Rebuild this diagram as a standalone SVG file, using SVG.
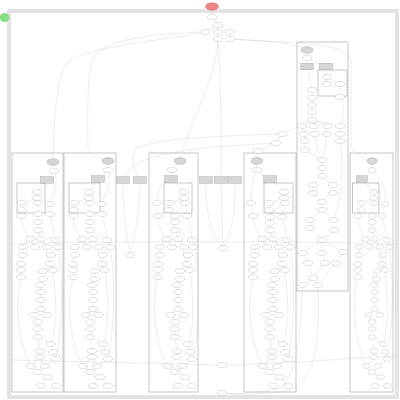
<svg xmlns="http://www.w3.org/2000/svg" xmlns:xlink="http://www.w3.org/1999/xlink" width="400" height="400" viewBox="0 0 400 400">
<style>
.n{fill:#fff;stroke:#a5a5a5;stroke-width:.35}
.g{fill:#d6d6d6;stroke:#999;stroke-width:.35}
.cl{fill:none;stroke:#a0a0a0;stroke-width:.6}
.e{fill:none;stroke:#c0c0c0;stroke-width:.3}
</style>
<defs>
<ellipse id="n" cx="0" cy="0" rx="4.7" ry="2.4"/>
<ellipse id="ge" cx="0" cy="0" rx="6" ry="3.4"/>
<rect id="gb" x="-6.5" y="-3.3" width="13" height="6.6"/>
<path id="te" d="M9,216 C10,228 14,234 18,239 M26,214 L26,230 M38,214 C40,225 43,232 43,240 M26,230 L18,239 M26,230 L29,239 M26,230 L43,240 M18,239 L11,247 M18,239 L23,247 M29,239 L35,247 M43,240 L46,247 M11,247 L11,255 M46,247 L39,255 M11,255 L9,264 L9,270 L9,277 M39,255 L38,264 L41,270 M38,264 L31,271 L31,279 L28,285 L29,292 L29,300 L29,309 M29,309 L22,315 M29,309 L35,315 M22,315 L26,322 M35,315 L26,322 M26,322 L26,337 M26,337 L39,344 M26,337 L28,351 M39,344 L41,352 L44,359 M28,351 L28,357 L19,366 M28,357 L33,366 M19,366 L26,372 M33,366 L26,372 M26,372 L36,377 M36,377 L29,386 M36,377 L44,386 M9,277 C3,300 4,340 19,366 M46,247 C52,280 50,330 44,359 M44,359 L33,366 M35,247 C34,256 36,260 38,264 M41,270 C45,300 45,330 39,344"/>
</defs>
<rect width="400" height="400" fill="#fff"/>
<g id="clusters">
<rect class="cl" x="8" y="10" width="390" height="388"/>
<rect class="cl" x="10" y="12" width="386" height="384"/>
<rect class="cl" x="297" y="42" width="51" height="249"/>
<rect class="cl" x="318" y="70" width="29" height="26"/>
<rect class="cl" x="12" y="153" width="51" height="239"/>
<rect class="cl" x="17" y="183" width="28" height="30"/>
<rect class="cl" x="64" y="153" width="52" height="239"/>
<rect class="cl" x="69" y="183" width="31" height="30"/>
<rect class="cl" x="149" y="153" width="49" height="239"/>
<rect class="cl" x="164" y="183" width="28" height="30"/>
<rect class="cl" x="244" y="153" width="52" height="239"/>
<rect class="cl" x="264" y="183" width="29" height="30"/>
<rect class="cl" x="350" y="153" width="43" height="239"/>
<rect class="cl" x="352.5" y="183" width="26.5" height="30"/>
</g>
<g id="connectors" class="e">
<path d="M212,6.5 L212,17 L218,25 L205,32 M218,25 L218,32 L218,39 M218,25 L230,32 L230,39"/>
<path d="M205,32 C180,33 110,35 95,55 C88,65 87,100 88,148 C89,155 98,158 108,161"/>
<path d="M205,32 C170,40 100,44 70,60 C56,70 54,120 53,162"/>
<path d="M230,39 C265,41 292,42 307,50"/>
<path d="M230,39 C300,44 346,42 351,60 L351,145 C352,152 362,157 372,161"/>
<path d="M218,39 C216,80 190,120 180,161"/>
<path d="M218,39 C222,100 221,150 221,180"/>
<path d="M302,126 C295,128 288,130 282,134 L276,143 L258,151 L257,161"/>
<path d="M282,134 C220,136 150,138 135,150 C131,156 132,170 140,180"/>
<path d="M276,143 C210,147 130,150 123,180"/>
<path d="M123,184 C123,220 128,240 130,255 M140,184 C140,220 133,240 130,255"/>
<path d="M206,184 C205,220 215,240 223,248 M221,184 L223,248 M235,184 C236,220 228,240 223,248"/>
<path d="M12,244 C100,241 300,241 396,244"/>
<path d="M12,360 C100,362 180,364 222,365 M222,365 C300,363 350,358 396,356"/>
<path d="M303,285 C300,320 301,370 280,388 C260,394 235,394 222,393 M318,285 C320,330 318,380 290,390 C265,395 240,395 222,393"/>
<path d="M307,50 L307,58 L307,66.5 M307,58 L326,66.5 M326,66.5 L327,77 L327,84 M327,77 L340,84 L340,97 M307,66.5 L312,90 L312,120 M312,120 L302,126 L304,134 L305,141 L305,150 M312,120 L314,126 L315,134 M312,120 L327,126 L327,134 M312,120 L340,126 L340,134 L340,141 M340,97 C345,105 344,115 340,126 M305,150 L322,160 L322,176 L313,185 L313,193 L322,202 M322,176 L333,185 L333,193 L322,202 L322,210 L310,220 L310,228 L322,240 M322,210 L334,220 L334,230 L322,240 M340,141 C345,170 340,200 334,220 M322,240 L303,253 M322,240 L322,253 M322,240 L343,252 M303,253 L308,263 L313,278 M322,253 L325,263 L313,278 M343,252 L336,263 L318,285 M313,278 L303,285 M313,278 L318,285 M315,134 C316,145 318,150 322,160 M327,134 C326,150 322,155 322,160"/>
<g transform="translate(12,0)"><use href="#te"/><path d="M41,162 L42,171 L35,180 L25,192 L25,198 L10,203 L10,210 L9,216 M25,198 L26,203 L26,214 M42,171 C48,185 40,195 38,204 L38,214"/></g>
<g transform="translate(64,0)"><use href="#te"/><path d="M44,161 L44,170 L34,179 L25,192 L25,198 L10,203 L10,210 L9,216 M25,198 L26,203 L26,214 M44,170 C48,185 40,195 38,204 L38,214"/></g>
<g transform="translate(149,0)"><use href="#te"/><path d="M31,161 L23,170 L22,179 L35,192 L35,198 L20,203 L20,210 L9,216 M35,198 L36,203 L26,214 M36,203 L38,214 M23,170 C12,180 8,195 8,203 L9,216"/></g>
<g transform="translate(244,0)"><use href="#te"/><path d="M13,161 L13,170 L26,179 L40,192 L40,198 L25,203 L25,210 L9,216 M40,198 L41,203 L26,214 M41,203 L38,214 M13,170 C8,180 7,195 7,203 L9,216"/></g>
<g transform="translate(350,0) scale(.85,1)"><use href="#te"/><path d="M26,161 L26,170 L14,179 L28,192 L28,198 L13,203 L13,210 L9,216 M28,198 L29,203 L26,214 M26,170 C44,185 42,195 41,204 L38,214"/></g>
</g>
<g id="top" class="n">
<g id="start"><ellipse cx="212" cy="6.5" rx="6.5" ry="3.8" fill="#ec8585" stroke="#c55"/></g>
<g id="legend"><ellipse cx="4.5" cy="17.5" rx="4.5" ry="4.2" fill="#86e086" stroke="#5b5"/></g>
<g id="a1"><use href="#n" x="212" y="17"/></g>
<g id="a2"><use href="#n" x="218" y="25"/></g>
<g id="a3"><use href="#n" x="205" y="32"/></g>
<g id="a4"><use href="#n" x="218" y="32"/></g>
<g id="a5"><use href="#n" x="230" y="32"/></g>
<g id="a6"><use href="#n" x="218" y="39"/></g>
<g id="a7"><use href="#n" x="230" y="39"/></g>
<g id="g1" class="g"><use href="#gb" x="123" y="180"/></g>
<g id="g2" class="g"><use href="#gb" x="140" y="180"/></g>
<g id="g3" class="g"><use href="#gb" x="206" y="180"/></g>
<g id="g4" class="g"><use href="#gb" x="221" y="180"/></g>
<g id="g5" class="g"><use href="#gb" x="235" y="180"/></g>
<g id="b1"><use href="#n" x="130" y="255"/></g>
<g id="b2"><use href="#n" x="223" y="248"/></g>
<g id="b3"><use href="#n" x="282" y="134"/></g>
<g id="b4"><use href="#n" x="276" y="143"/></g>
<g id="b5"><use href="#n" x="258" y="151"/></g>
<g id="b6"><use href="#n" x="222" y="365"/></g>
<g id="b7"><use href="#n" x="222" y="393"/></g>
</g>
<g id="upper" class="n">
<g id="u0" class="g"><use href="#ge" x="307" y="50"/></g>
<g id="u1"><use href="#n" x="307" y="58"/></g>
<g id="ub1" class="g"><use href="#gb" x="307" y="66.5"/></g>
<g id="ub2" class="g"><use href="#gb" x="326" y="66.5"/></g>
<g id="u2"><use href="#n" x="327" y="77"/></g>
<g id="u3"><use href="#n" x="327" y="84"/></g>
<g id="u4"><use href="#n" x="340" y="84"/></g>
<g id="u5"><use href="#n" x="340" y="97"/></g>
<g id="u6"><use href="#n" x="312" y="90"/></g>
<g id="u7"><use href="#n" x="312" y="98"/></g>
<g id="u8"><use href="#n" x="312" y="105"/></g>
<g id="u9"><use href="#n" x="312" y="112"/></g>
<g id="u10"><use href="#n" x="312" y="120"/></g>
<g id="u11"><use href="#n" x="302" y="126"/></g>
<g id="u12"><use href="#n" x="314" y="126"/></g>
<g id="u13"><use href="#n" x="327" y="126"/></g>
<g id="u14"><use href="#n" x="340" y="126"/></g>
<g id="u15"><use href="#n" x="304" y="134"/></g>
<g id="u16"><use href="#n" x="315" y="134"/></g>
<g id="u17"><use href="#n" x="327" y="134"/></g>
<g id="u18"><use href="#n" x="340" y="134"/></g>
<g id="u19"><use href="#n" x="305" y="141"/></g>
<g id="u20"><use href="#n" x="340" y="141"/></g>
<g id="u21"><use href="#n" x="305" y="150"/></g>
<g id="u22"><use href="#n" x="322" y="160"/></g>
<g id="u23"><use href="#n" x="322" y="168"/></g>
<g id="u24"><use href="#n" x="322" y="176"/></g>
<g id="u25"><use href="#n" x="313" y="185"/></g>
<g id="u26"><use href="#n" x="333" y="185"/></g>
<g id="u27"><use href="#n" x="313" y="193"/></g>
<g id="u28"><use href="#n" x="333" y="193"/></g>
<g id="u29"><use href="#n" x="322" y="202"/></g>
<g id="u30"><use href="#n" x="322" y="210"/></g>
<g id="u31"><use href="#n" x="310" y="220"/></g>
<g id="u32"><use href="#n" x="334" y="220"/></g>
<g id="u33"><use href="#n" x="310" y="228"/></g>
<g id="u34"><use href="#n" x="334" y="230"/></g>
<g id="u35"><use href="#n" x="322" y="240"/></g>
<g id="u36"><use href="#n" x="303" y="253"/></g>
<g id="u37"><use href="#n" x="322" y="253"/></g>
<g id="u38"><use href="#n" x="343" y="252"/></g>
<g id="u39"><use href="#n" x="308" y="263"/></g>
<g id="u40"><use href="#n" x="325" y="263"/></g>
<g id="u41"><use href="#n" x="336" y="263"/></g>
<g id="u42"><use href="#n" x="313" y="278"/></g>
<g id="u43"><use href="#n" x="303" y="285"/></g>
<g id="u44"><use href="#n" x="318" y="285"/></g>
</g>
<g id="col1" class="n" transform="translate(12,0)">
<g id="c1_e" class="g"><use href="#ge" x="41" y="162"/></g>
<g id="c1_s"><use href="#n" x="42" y="171"/></g>
<g id="c1_b" class="g"><use href="#gb" x="35" y="180"/></g>
<g id="c1_1"><use href="#n" x="25" y="192"/></g>
<g id="c1_2"><use href="#n" x="25" y="198"/></g>
<g id="c1_3"><use href="#n" x="10" y="203"/></g>
<g id="c1_4"><use href="#n" x="26" y="203"/></g>
<g id="c1_5"><use href="#n" x="10" y="210"/></g>
<g id="c1_6"><use href="#n" x="38" y="204"/></g>
<g id="c1_7"><use href="#n" x="9" y="216"/></g>
<g id="c1_8"><use href="#n" x="26" y="214"/></g>
<g id="c1_9"><use href="#n" x="38" y="214"/></g>
<g id="c1_10"><use href="#n" x="26" y="222"/></g>
<g id="c1_11"><use href="#n" x="26" y="230"/></g>
<g id="c1_12"><use href="#n" x="18" y="239"/></g>
<g id="c1_13"><use href="#n" x="29" y="239"/></g>
<g id="c1_14"><use href="#n" x="43" y="240"/></g>
<g id="c1_15"><use href="#n" x="11" y="247"/></g>
<g id="c1_16"><use href="#n" x="23" y="247"/></g>
<g id="c1_17"><use href="#n" x="35" y="247"/></g>
<g id="c1_18"><use href="#n" x="46" y="247"/></g>
<g id="c1_19"><use href="#n" x="11" y="255"/></g>
<g id="c1_20"><use href="#n" x="39" y="255"/></g>
<g id="c1_21"><use href="#n" x="9" y="264"/></g>
<g id="c1_22"><use href="#n" x="38" y="264"/></g>
<g id="c1_23"><use href="#n" x="9" y="270"/></g>
<g id="c1_24"><use href="#n" x="31" y="271"/></g>
<g id="c1_25"><use href="#n" x="41" y="270"/></g>
<g id="c1_26"><use href="#n" x="9" y="277"/></g>
<g id="c1_27"><use href="#n" x="31" y="279"/></g>
<g id="c1_28"><use href="#n" x="28" y="285"/></g>
<g id="c1_29"><use href="#n" x="29" y="292"/></g>
<g id="c1_30"><use href="#n" x="29" y="300"/></g>
<g id="c1_31"><use href="#n" x="29" y="309"/></g>
<g id="c1_32"><use href="#n" x="22" y="315"/></g>
<g id="c1_33"><use href="#n" x="35" y="315"/></g>
<g id="c1_34"><use href="#n" x="26" y="322"/></g>
<g id="c1_35"><use href="#n" x="26" y="329"/></g>
<g id="c1_36"><use href="#n" x="26" y="337"/></g>
<g id="c1_37"><use href="#n" x="39" y="344"/></g>
<g id="c1_38"><use href="#n" x="28" y="351"/></g>
<g id="c1_39"><use href="#n" x="41" y="352"/></g>
<g id="c1_40"><use href="#n" x="28" y="357"/></g>
<g id="c1_41"><use href="#n" x="44" y="359"/></g>
<g id="c1_42"><use href="#n" x="19" y="366"/></g>
<g id="c1_43"><use href="#n" x="33" y="366"/></g>
<g id="c1_44"><use href="#n" x="26" y="372"/></g>
<g id="c1_45"><use href="#n" x="36" y="377"/></g>
<g id="c1_46"><use href="#n" x="29" y="386"/></g>
<g id="c1_47"><use href="#n" x="44" y="386"/></g>
</g>
<g id="col2" class="n" transform="translate(64,0)">
<g id="c2_e" class="g"><use href="#ge" x="44" y="161"/></g>
<g id="c2_s"><use href="#n" x="44" y="170"/></g>
<g id="c2_b" class="g"><use href="#gb" x="34" y="179"/></g>
<g id="c2_1"><use href="#n" x="25" y="192"/></g>
<g id="c2_2"><use href="#n" x="25" y="198"/></g>
<g id="c2_3"><use href="#n" x="10" y="203"/></g>
<g id="c2_4"><use href="#n" x="26" y="203"/></g>
<g id="c2_5"><use href="#n" x="10" y="210"/></g>
<g id="c2_6"><use href="#n" x="38" y="204"/></g>
<g id="c2_7"><use href="#n" x="9" y="216"/></g>
<g id="c2_8"><use href="#n" x="26" y="214"/></g>
<g id="c2_9"><use href="#n" x="38" y="214"/></g>
<g id="c2_10"><use href="#n" x="26" y="222"/></g>
<g id="c2_11"><use href="#n" x="26" y="230"/></g>
<g id="c2_12"><use href="#n" x="18" y="239"/></g>
<g id="c2_13"><use href="#n" x="29" y="239"/></g>
<g id="c2_14"><use href="#n" x="43" y="240"/></g>
<g id="c2_15"><use href="#n" x="11" y="247"/></g>
<g id="c2_16"><use href="#n" x="23" y="247"/></g>
<g id="c2_17"><use href="#n" x="35" y="247"/></g>
<g id="c2_18"><use href="#n" x="46" y="247"/></g>
<g id="c2_19"><use href="#n" x="11" y="255"/></g>
<g id="c2_20"><use href="#n" x="39" y="255"/></g>
<g id="c2_21"><use href="#n" x="9" y="264"/></g>
<g id="c2_22"><use href="#n" x="38" y="264"/></g>
<g id="c2_23"><use href="#n" x="9" y="270"/></g>
<g id="c2_24"><use href="#n" x="31" y="271"/></g>
<g id="c2_25"><use href="#n" x="41" y="270"/></g>
<g id="c2_26"><use href="#n" x="9" y="277"/></g>
<g id="c2_27"><use href="#n" x="31" y="279"/></g>
<g id="c2_28"><use href="#n" x="28" y="285"/></g>
<g id="c2_29"><use href="#n" x="29" y="292"/></g>
<g id="c2_30"><use href="#n" x="29" y="300"/></g>
<g id="c2_31"><use href="#n" x="29" y="309"/></g>
<g id="c2_32"><use href="#n" x="22" y="315"/></g>
<g id="c2_33"><use href="#n" x="35" y="315"/></g>
<g id="c2_34"><use href="#n" x="26" y="322"/></g>
<g id="c2_35"><use href="#n" x="26" y="329"/></g>
<g id="c2_36"><use href="#n" x="26" y="337"/></g>
<g id="c2_37"><use href="#n" x="39" y="344"/></g>
<g id="c2_38"><use href="#n" x="28" y="351"/></g>
<g id="c2_39"><use href="#n" x="41" y="352"/></g>
<g id="c2_40"><use href="#n" x="28" y="357"/></g>
<g id="c2_41"><use href="#n" x="44" y="359"/></g>
<g id="c2_42"><use href="#n" x="19" y="366"/></g>
<g id="c2_43"><use href="#n" x="33" y="366"/></g>
<g id="c2_44"><use href="#n" x="26" y="372"/></g>
<g id="c2_45"><use href="#n" x="36" y="377"/></g>
<g id="c2_46"><use href="#n" x="29" y="386"/></g>
<g id="c2_47"><use href="#n" x="44" y="386"/></g>
</g>
<g id="col3" class="n" transform="translate(149,0)">
<g id="c3_e" class="g"><use href="#ge" x="31" y="161"/></g>
<g id="c3_s"><use href="#n" x="23" y="170"/></g>
<g id="c3_b" class="g"><use href="#gb" x="22" y="179"/></g>
<g id="c3_1"><use href="#n" x="35" y="192"/></g>
<g id="c3_2"><use href="#n" x="35" y="198"/></g>
<g id="c3_3"><use href="#n" x="20" y="203"/></g>
<g id="c3_4"><use href="#n" x="36" y="203"/></g>
<g id="c3_5"><use href="#n" x="20" y="210"/></g>
<g id="c3_6"><use href="#n" x="8" y="203"/></g>
<g id="c3_7"><use href="#n" x="9" y="216"/></g>
<g id="c3_8"><use href="#n" x="26" y="216"/></g>
<g id="c3_9"><use href="#n" x="38" y="216"/></g>
<g id="c3_10"><use href="#n" x="26" y="222"/></g>
<g id="c3_11"><use href="#n" x="26" y="230"/></g>
<g id="c3_12"><use href="#n" x="18" y="239"/></g>
<g id="c3_13"><use href="#n" x="29" y="239"/></g>
<g id="c3_14"><use href="#n" x="43" y="240"/></g>
<g id="c3_15"><use href="#n" x="11" y="247"/></g>
<g id="c3_16"><use href="#n" x="23" y="247"/></g>
<g id="c3_17"><use href="#n" x="35" y="247"/></g>
<g id="c3_18"><use href="#n" x="44" y="247"/></g>
<g id="c3_19"><use href="#n" x="11" y="255"/></g>
<g id="c3_20"><use href="#n" x="39" y="255"/></g>
<g id="c3_21"><use href="#n" x="9" y="264"/></g>
<g id="c3_22"><use href="#n" x="38" y="264"/></g>
<g id="c3_23"><use href="#n" x="9" y="270"/></g>
<g id="c3_24"><use href="#n" x="31" y="271"/></g>
<g id="c3_25"><use href="#n" x="41" y="270"/></g>
<g id="c3_26"><use href="#n" x="9" y="277"/></g>
<g id="c3_27"><use href="#n" x="31" y="279"/></g>
<g id="c3_28"><use href="#n" x="28" y="285"/></g>
<g id="c3_29"><use href="#n" x="29" y="292"/></g>
<g id="c3_30"><use href="#n" x="29" y="300"/></g>
<g id="c3_31"><use href="#n" x="29" y="309"/></g>
<g id="c3_32"><use href="#n" x="22" y="315"/></g>
<g id="c3_33"><use href="#n" x="35" y="315"/></g>
<g id="c3_34"><use href="#n" x="26" y="322"/></g>
<g id="c3_35"><use href="#n" x="26" y="329"/></g>
<g id="c3_36"><use href="#n" x="26" y="337"/></g>
<g id="c3_37"><use href="#n" x="39" y="344"/></g>
<g id="c3_38"><use href="#n" x="28" y="351"/></g>
<g id="c3_39"><use href="#n" x="41" y="352"/></g>
<g id="c3_40"><use href="#n" x="28" y="357"/></g>
<g id="c3_41"><use href="#n" x="43" y="359"/></g>
<g id="c3_42"><use href="#n" x="19" y="366"/></g>
<g id="c3_43"><use href="#n" x="33" y="366"/></g>
<g id="c3_44"><use href="#n" x="26" y="372"/></g>
<g id="c3_45"><use href="#n" x="36" y="377"/></g>
<g id="c3_46"><use href="#n" x="29" y="386"/></g>
<g id="c3_47"><use href="#n" x="42" y="386"/></g>
</g>
<g id="col4" class="n" transform="translate(244,0)">
<g id="c4_e" class="g"><use href="#ge" x="13" y="161"/></g>
<g id="c4_s"><use href="#n" x="13" y="170"/></g>
<g id="c4_b" class="g"><use href="#gb" x="26" y="179"/></g>
<g id="c4_1"><use href="#n" x="40" y="192"/></g>
<g id="c4_2"><use href="#n" x="40" y="198"/></g>
<g id="c4_3"><use href="#n" x="25" y="203"/></g>
<g id="c4_4"><use href="#n" x="41" y="203"/></g>
<g id="c4_5"><use href="#n" x="25" y="210"/></g>
<g id="c4_6"><use href="#n" x="7" y="203"/></g>
<g id="c4_7"><use href="#n" x="9" y="216"/></g>
<g id="c4_8"><use href="#n" x="26" y="217"/></g>
<g id="c4_9"><use href="#n" x="38" y="217"/></g>
<g id="c4_10"><use href="#n" x="26" y="223"/></g>
<g id="c4_11"><use href="#n" x="26" y="230"/></g>
<g id="c4_12"><use href="#n" x="18" y="239"/></g>
<g id="c4_13"><use href="#n" x="29" y="239"/></g>
<g id="c4_14"><use href="#n" x="43" y="240"/></g>
<g id="c4_15"><use href="#n" x="11" y="247"/></g>
<g id="c4_16"><use href="#n" x="23" y="247"/></g>
<g id="c4_17"><use href="#n" x="35" y="247"/></g>
<g id="c4_18"><use href="#n" x="46" y="247"/></g>
<g id="c4_19"><use href="#n" x="11" y="255"/></g>
<g id="c4_20"><use href="#n" x="39" y="255"/></g>
<g id="c4_21"><use href="#n" x="9" y="264"/></g>
<g id="c4_22"><use href="#n" x="38" y="264"/></g>
<g id="c4_23"><use href="#n" x="9" y="270"/></g>
<g id="c4_24"><use href="#n" x="31" y="271"/></g>
<g id="c4_25"><use href="#n" x="41" y="270"/></g>
<g id="c4_26"><use href="#n" x="9" y="277"/></g>
<g id="c4_27"><use href="#n" x="31" y="279"/></g>
<g id="c4_28"><use href="#n" x="28" y="285"/></g>
<g id="c4_29"><use href="#n" x="29" y="292"/></g>
<g id="c4_30"><use href="#n" x="29" y="300"/></g>
<g id="c4_31"><use href="#n" x="29" y="309"/></g>
<g id="c4_32"><use href="#n" x="22" y="315"/></g>
<g id="c4_33"><use href="#n" x="35" y="315"/></g>
<g id="c4_34"><use href="#n" x="26" y="322"/></g>
<g id="c4_35"><use href="#n" x="26" y="329"/></g>
<g id="c4_36"><use href="#n" x="26" y="337"/></g>
<g id="c4_37"><use href="#n" x="39" y="344"/></g>
<g id="c4_38"><use href="#n" x="28" y="351"/></g>
<g id="c4_39"><use href="#n" x="41" y="352"/></g>
<g id="c4_40"><use href="#n" x="28" y="357"/></g>
<g id="c4_41"><use href="#n" x="44" y="359"/></g>
<g id="c4_42"><use href="#n" x="19" y="366"/></g>
<g id="c4_43"><use href="#n" x="33" y="366"/></g>
<g id="c4_44"><use href="#n" x="26" y="372"/></g>
<g id="c4_45"><use href="#n" x="36" y="377"/></g>
<g id="c4_46"><use href="#n" x="29" y="386"/></g>
<g id="c4_47"><use href="#n" x="44" y="386"/></g>
</g>
<g id="col5" class="n" transform="translate(350,0) scale(.85,1)">
<g id="c5_e" class="g"><use href="#ge" x="26" y="161"/></g>
<g id="c5_s"><use href="#n" x="26" y="170"/></g>
<g id="c5_b" class="g"><use href="#gb" x="14" y="179"/></g>
<g id="c5_1"><use href="#n" x="28" y="192"/></g>
<g id="c5_2"><use href="#n" x="28" y="198"/></g>
<g id="c5_3"><use href="#n" x="13" y="203"/></g>
<g id="c5_4"><use href="#n" x="29" y="203"/></g>
<g id="c5_5"><use href="#n" x="13" y="210"/></g>
<g id="c5_6"><use href="#n" x="41" y="204"/></g>
<g id="c5_7"><use href="#n" x="9" y="216"/></g>
<g id="c5_8"><use href="#n" x="26" y="216"/></g>
<g id="c5_9"><use href="#n" x="38" y="216"/></g>
<g id="c5_10"><use href="#n" x="26" y="222"/></g>
<g id="c5_11"><use href="#n" x="26" y="230"/></g>
<g id="c5_12"><use href="#n" x="18" y="239"/></g>
<g id="c5_13"><use href="#n" x="29" y="239"/></g>
<g id="c5_14"><use href="#n" x="43" y="240"/></g>
<g id="c5_15"><use href="#n" x="11" y="247"/></g>
<g id="c5_16"><use href="#n" x="23" y="247"/></g>
<g id="c5_17"><use href="#n" x="35" y="247"/></g>
<g id="c5_18"><use href="#n" x="46" y="247"/></g>
<g id="c5_19"><use href="#n" x="11" y="255"/></g>
<g id="c5_20"><use href="#n" x="39" y="255"/></g>
<g id="c5_21"><use href="#n" x="9" y="264"/></g>
<g id="c5_22"><use href="#n" x="38" y="264"/></g>
<g id="c5_23"><use href="#n" x="9" y="270"/></g>
<g id="c5_24"><use href="#n" x="31" y="271"/></g>
<g id="c5_25"><use href="#n" x="41" y="270"/></g>
<g id="c5_26"><use href="#n" x="9" y="277"/></g>
<g id="c5_27"><use href="#n" x="31" y="279"/></g>
<g id="c5_28"><use href="#n" x="28" y="285"/></g>
<g id="c5_29"><use href="#n" x="29" y="292"/></g>
<g id="c5_30"><use href="#n" x="29" y="300"/></g>
<g id="c5_31"><use href="#n" x="29" y="309"/></g>
<g id="c5_32"><use href="#n" x="22" y="315"/></g>
<g id="c5_33"><use href="#n" x="35" y="315"/></g>
<g id="c5_34"><use href="#n" x="26" y="322"/></g>
<g id="c5_35"><use href="#n" x="26" y="329"/></g>
<g id="c5_36"><use href="#n" x="26" y="337"/></g>
<g id="c5_37"><use href="#n" x="39" y="344"/></g>
<g id="c5_38"><use href="#n" x="28" y="351"/></g>
<g id="c5_39"><use href="#n" x="41" y="352"/></g>
<g id="c5_40"><use href="#n" x="28" y="357"/></g>
<g id="c5_41"><use href="#n" x="44" y="359"/></g>
<g id="c5_42"><use href="#n" x="19" y="366"/></g>
<g id="c5_43"><use href="#n" x="33" y="366"/></g>
<g id="c5_44"><use href="#n" x="26" y="372"/></g>
<g id="c5_45"><use href="#n" x="36" y="377"/></g>
<g id="c5_46"><use href="#n" x="29" y="386"/></g>
<g id="c5_47"><use href="#n" x="44" y="386"/></g>
</g>
</svg>
